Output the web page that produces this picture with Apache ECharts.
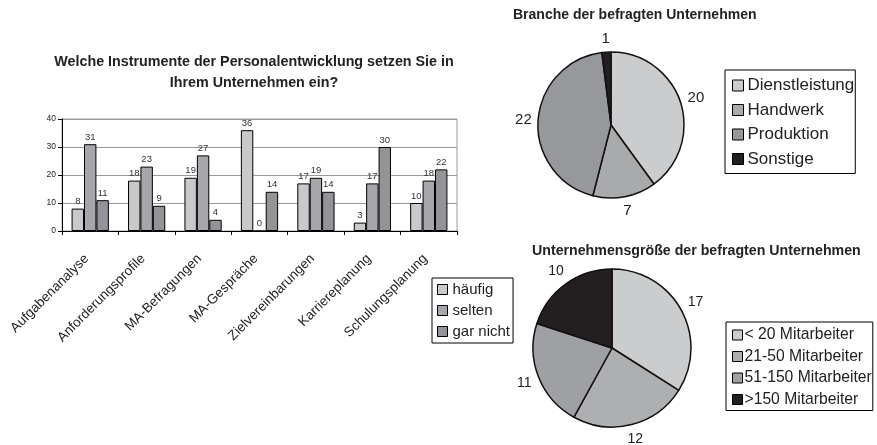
<!DOCTYPE html>
<html>
<head>
<meta charset="utf-8">
<script src="https://cdn.jsdelivr.net/npm/echarts@6/dist/echarts.min.js"></script>
<style>
html,body{margin:0;padding:0;background:#fff;}
#c{width:877px;height:445px;}
</style>
</head>
<body>
<div id="c"></div>
<script>
const categories = ['Aufgabenanalyse','Anforderungsprofile','MA-Befragungen','MA-Gespräche','Zielvereinbarungen','Karriereplanung','Schulungsplanung'];
const haeufig = [8,18,19,36,17,3,10];
const selten = [31,23,27,0,19,17,18];
const garNicht = [11,9,4,14,14,30,22];
const barSeriesNames = ['häufig','selten','gar nicht'];
const yTicks = [0,10,20,30,40];

const brancheNames = ['Dienstleistung','Handwerk','Produktion','Sonstige'];
const brancheValues = [20,7,22,1];
const groesseNames = ['< 20 Mitarbeiter','21-50 Mitarbeiter','51-150 Mitarbeiter','>150 Mitarbeiter'];
const groesseValues = [17,12,11,10];

const barColors = ['#c8c9cb','#a6a7aa','#939497'];
const pie1Colors = ['#cbcccd','#a9aaac','#97989b','#231f20'];
const pie2Colors = ['#cbcccd','#aeafb1','#9fa0a3','#231f20'];
const FONT = 'Liberation Sans, Arial, sans-serif';

const chart = echarts.init(document.getElementById('c'), null, {renderer:'canvas'});

function barSeries(name, data, color){
  return {
    name, type:'bar', data, xAxisIndex:0, yAxisIndex:0,
    barGap:'0%', barCategoryGap:'34%',
    itemStyle:{color, borderColor:'#000', borderWidth:1},
    label:{show:true, position:'top', distance:2, fontSize:9.5, color:'#333', fontFamily:FONT},
    emphasis:{disabled:true}, animation:false
  };
}
function pieData(names, values, colors){
  return names.map((n,i)=>({name:n, value:values[i], itemStyle:{color:colors[i]}}));
}
// place each pie label's centre just outside the slice edge, along the slice's mid direction
function pieLabelLayout(gap){
  return function(params){
    const p = params.labelLinePoints;
    if(!p || p.length < 2) return {};
    const dx = p[1][0]-p[0][0], dy = p[1][1]-p[0][1];
    const len = Math.hypot(dx,dy) || 1;
    const ux = dx/len, uy = dy/len;
    const hw = params.labelRect.width/2, hh = params.labelRect.height/2;
    const d = gap + Math.abs(ux)*hw + Math.abs(uy)*hh;
    return {x: p[0][0] + ux*d, y: p[0][1] + uy*d, align:'center', verticalAlign:'middle'};
  };
}

const option = {
  backgroundColor:'#fff',
  animation:false,
  textStyle:{fontFamily:FONT},
  title:[
    {text:'Welche Instrumente der Personalentwicklung setzen Sie in\nIhrem Unternehmen ein?', left:254, top:52, textAlign:'center', padding:0,
     textStyle:{fontSize:14.3, fontWeight:'bold', color:'#222', lineHeight:21, fontFamily:FONT}},
    {text:'Branche der befragten Unternehmen', left:513, top:8, padding:0,
     textStyle:{fontSize:14, fontWeight:'bold', color:'#222', fontFamily:FONT}},
    {text:'Unternehmensgröße der befragten Unternehmen', left:532, top:244, padding:0,
     textStyle:{fontSize:14.2, fontWeight:'bold', color:'#222', fontFamily:FONT}}
  ],
  grid:[{left:62, top:119, width:395, height:112, show:true, borderColor:'#999', borderWidth:1, backgroundColor:'transparent'}],
  xAxis:[{type:'category', data:categories, gridIndex:0,
    axisLine:{lineStyle:{color:'#000', width:1}},
    axisTick:{show:true, length:4, lineStyle:{color:'#000'}},
    axisLabel:{rotate:45, interval:0, fontSize:13.5, color:'#222', margin:22, padding:[0,5,0,0], fontFamily:FONT},
    splitLine:{show:false}}],
  yAxis:[{type:'value', min:0, max:40, interval:10, gridIndex:0,
    axisLine:{show:true, lineStyle:{color:'#000', width:1}},
    axisTick:{show:true, length:4, lineStyle:{color:'#000'}},
    axisLabel:{fontSize:8.5, color:'#222', margin:6, fontFamily:FONT},
    splitLine:{show:true, lineStyle:{color:'#999', width:1}}}],
  legend:[
    {data:barSeriesNames, left:432, top:278, orient:'vertical', padding:[4,3,4,5], itemGap:6,
     itemWidth:10, itemHeight:10, icon:'rect', borderColor:'#000', borderWidth:1,
     itemStyle:{borderColor:'#000', borderWidth:1},
     textStyle:{fontSize:15, color:'#222', padding:[0,0,0,0], fontFamily:FONT}, selectedMode:false},
    {data:brancheNames, left:725, top:70, orient:'vertical', padding:[7,1,6,7], itemGap:7.5,
     itemWidth:11, itemHeight:11, icon:'rect', borderColor:'#000', borderWidth:1,
     itemStyle:{borderColor:'#000', borderWidth:1},
     textStyle:{fontSize:17, color:'#222', padding:[0,0,0,-1], fontFamily:FONT}, selectedMode:false},
    {data:groesseNames, left:726, top:322, orient:'vertical', padding:[5,1,3,6], itemGap:5.5,
     itemWidth:10, itemHeight:10, icon:'rect', borderColor:'#000', borderWidth:1,
     itemStyle:{borderColor:'#000', borderWidth:1},
     textStyle:{fontSize:15.7, color:'#222', padding:[0,0,0,-3], fontFamily:FONT}, selectedMode:false}
  ],
  series:[
    barSeries(barSeriesNames[0], haeufig, barColors[0]),
    barSeries(barSeriesNames[1], selten, barColors[1]),
    barSeries(barSeriesNames[2], garNicht, barColors[2]),
    {type:'pie', name:'Branche', center:[611,125], radius:73, startAngle:90, clockwise:true,
     data:pieData(brancheNames, brancheValues, pie1Colors),
     itemStyle:{borderColor:'#111', borderWidth:1.5},
     label:{show:true, position:'outside', formatter:'{c}', fontSize:15, color:'#222', fontFamily:FONT},
     labelLine:{show:true, length:4, length2:0, lineStyle:{width:0, opacity:0}},
     labelLayout:pieLabelLayout(6),
     emphasis:{disabled:true}, animation:false},
    {type:'pie', name:'Größe', center:[612,348], radius:79, startAngle:90, clockwise:true,
     data:pieData(groesseNames, groesseValues, pie2Colors),
     itemStyle:{borderColor:'#111', borderWidth:1.5},
     label:{show:true, position:'outside', formatter:'{c}', fontSize:14, color:'#222', fontFamily:FONT},
     labelLine:{show:true, length:4, length2:0, lineStyle:{width:0, opacity:0}},
     labelLayout:pieLabelLayout(6),
     emphasis:{disabled:true}, animation:false}
  ]
};
chart.setOption(option);
</script>
</body>
</html>
